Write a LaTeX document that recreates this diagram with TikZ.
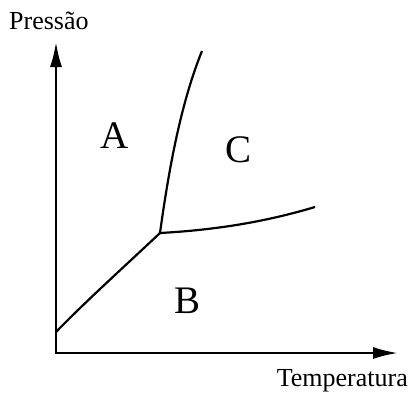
\documentclass[tikz,border=0pt]{standalone}
\usepackage{fontspec}
\setmainfont{Liberation Serif}
\usetikzlibrary{arrows.meta}
\begin{document}
\begin{tikzpicture}[x=1pt,y=-1pt,
  axis/.style={line width=2.4pt,-{Latex[length=25pt,width=12pt]}},
  curve/.style={line width=2.2pt},
  axlabel/.style={font=\fontsize{26}{30}\selectfont,inner sep=0pt},
  region/.style={font=\fontsize{39}{44}\selectfont,inner sep=0pt}]
\useasboundingbox (0,0) rectangle (410,392);
\coordinate (O) at (56,353);
\coordinate (ytip) at (56,42);
\coordinate (xtip) at (398,353);
\draw[axis] (56,354.2) -- (ytip);
\draw[axis] (54.8,353) -- (xtip);
\node[axlabel,anchor=base west] (pl) at (9,29) {Pressão};
\node[axlabel,anchor=base east] (tl) at (408,386) {Temperatura};
\coordinate (s) at (56,332);
\coordinate (tp) at (160,233);
\coordinate (top) at (202,51);
\coordinate (rt) at (315,207);
\draw[curve] (s) .. controls (85,302) and (125,266) .. (tp);
\draw[curve] (tp) .. controls (168,175) and (180,105) .. (top);
\draw[curve] (tp) .. controls (215,230) and (265,222) .. (rt);
\node[region] (A) at (115,136) {A};
\node[region] (C) at (239,150) {C};
\node[region] (B) at (188,301) {B};
\end{tikzpicture}
\end{document}
